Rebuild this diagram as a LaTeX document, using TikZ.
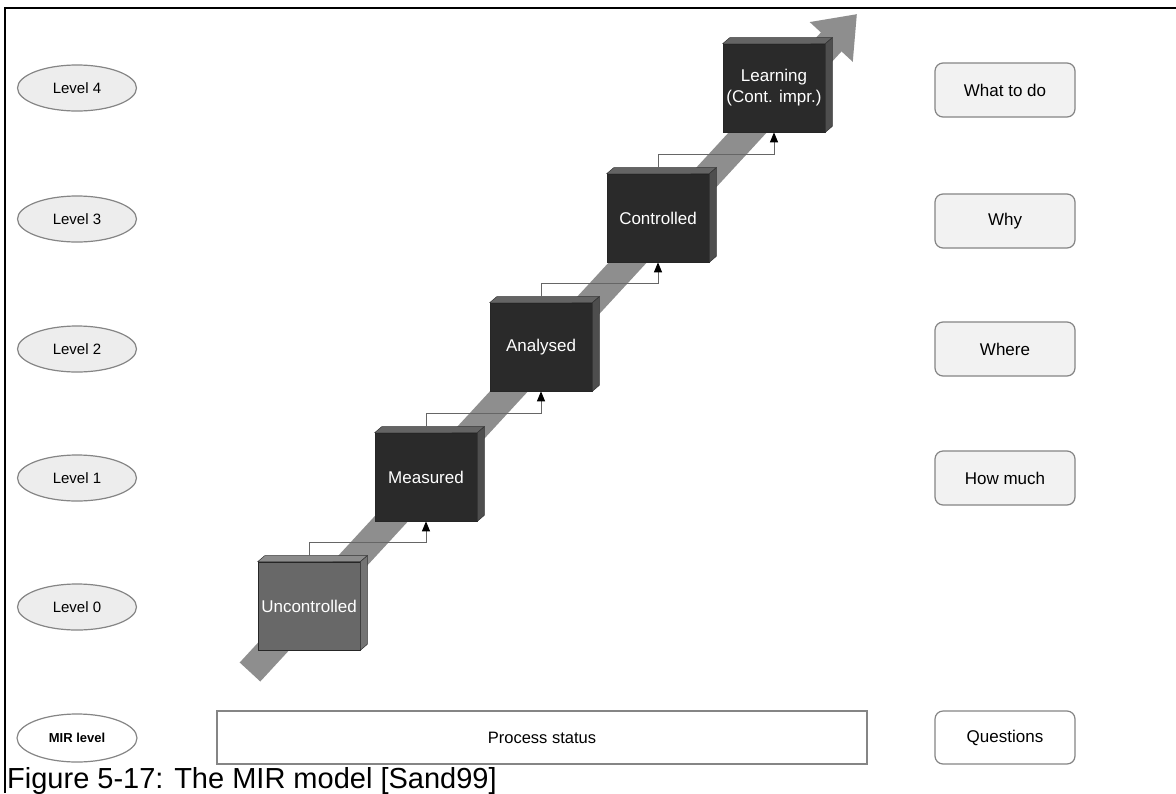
\documentclass[tikz,border=0pt]{standalone}
\usepackage{fontspec}
\setmainfont{Liberation Sans}
\usetikzlibrary{arrows.meta,calc,shapes.geometric}

\definecolor{bandgrey}{HTML}{8E8E8E}
\definecolor{edgegrey}{HTML}{858585}
\definecolor{pillfill}{HTML}{EDEDED}
\definecolor{boxfill}{HTML}{F2F2F2}
\definecolor{darkfront}{HTML}{2A2A2A}
\definecolor{darktop}{HTML}{646464}
\definecolor{darkside}{HTML}{4E4E4E}
\definecolor{lightfront}{HTML}{686868}
\definecolor{lighttop}{HTML}{8C8C8C}
\definecolor{lightside}{HTML}{747474}

\tikzset{
  levelell/.style={ellipse, draw=edgegrey, line width=1.2pt, fill=pillfill,
    minimum width=119pt, minimum height=46pt, inner sep=0pt,
    font=\fontsize{15}{18}\selectfont},
  qbox/.style={rectangle, rounded corners=8pt, draw=edgegrey, line width=1.2pt,
    fill=boxfill, minimum width=140pt, minimum height=54pt, inner sep=0pt,
    font=\fontsize{17}{20}\selectfont},
  cube/.style={rectangle, draw=black!85, line width=0.6pt,
    minimum width=102pt, minimum height=88pt, inner sep=0pt,
    text=white, align=center, font=\fontsize{17}{21}\selectfont},
  band/.style={draw=bandgrey, line width=28pt,
    -{Triangle[width=56pt,length=38pt]}},
  fb/.style={draw=black!60, line width=0.9pt,
    -{Triangle[color=black,width=8pt,length=10pt]}},
}

% three-dimensional block: front node plus top and side faces
\newcommand{\blockfaces}[3]{%
  \filldraw[fill=#2, draw=black!80, line width=0.5pt]
    (#1.north west) -- ++(7,-6) -- ($(#1.north east)+(7,-6)$) -- (#1.north east) -- cycle;
  \filldraw[fill=#3, draw=black!80, line width=0.5pt]
    (#1.north east) -- ++(7,-6) -- ($(#1.south east)+(7,-6)$) -- (#1.south east) -- cycle;
}

\begin{document}
\begin{tikzpicture}[x=1pt,y=-1pt]
\useasboundingbox (0,0) rectangle (1176,793);
\fill[white] (0,0) rectangle (1176,793);

% frame
\draw[line width=2.2pt] (5,793) -- (5,7.7) -- (1176,7.7);

% level column
\node[levelell] (lv4) at (77,88)  {Level 4};
\node[levelell] (lv3) at (77,219) {Level 3};
\node[levelell] (lv2) at (77,349) {Level 2};
\node[levelell] (lv1) at (77,478) {Level 1};
\node[levelell] (lv0) at (77,607) {Level 0};
\node[levelell, fill=white, minimum width=120pt, minimum height=48pt,
      font=\fontsize{13}{15}\selectfont\bfseries] (mir) at (77,738) {MIR level};

% question column
\node[qbox] (q4) at (1005,90)  {What to do};
\node[qbox] (q3) at (1005,221) {Why};
\node[qbox] (q2) at (1005,349) {Where};
\node[qbox] (q1) at (1005,478) {How much};
\node[qbox, fill=white, minimum height=53pt] (qh) at (1005,737.5) {Questions};

% process status bar
\node[rectangle, draw=edgegrey, line width=1.2pt, fill=white,
      minimum width=650pt, minimum height=53pt, inner sep=0pt,
      font=\fontsize{16.5}{20}\selectfont] (ps) at (542,737.5) {Process status};

% rising band
\coordinate (bandS) at (250,672);
\coordinate (bandT) at (857,14);
\draw[band] (bandS) -- (bandT);

% blocks
\node[cube, fill=lightfront] (b0) at (309,606) {Uncontrolled};
\blockfaces{b0}{lighttop}{lightside}
\node[cube, fill=darkfront] (b1) at (426,477) {Measured};
\blockfaces{b1}{darktop}{darkside}
\node[cube, fill=darkfront] (b2) at (541,347) {Analysed};
\blockfaces{b2}{darktop}{darkside}
\node[cube, fill=darkfront] (b3) at (658,218) {Controlled};
\blockfaces{b3}{darktop}{darkside}
\node[cube, fill=darkfront] (b4) at (774,88) {Learning\\(Cont. impr.)};
\blockfaces{b4}{darktop}{darkside}

% step connectors
\foreach \a/\b in {b0/b1, b1/b2, b2/b3, b3/b4}
  \draw[fb] ($(\a.north)+(0,-6)$) -- ++(0,-13) -| (\b.south);

% caption
\node[anchor=base west, inner sep=0pt, font=\fontsize{29}{34}\selectfont]
  (cap) at (7,788) {Figure 5-17: The MIR model [Sand99]};
\end{tikzpicture}
\end{document}
